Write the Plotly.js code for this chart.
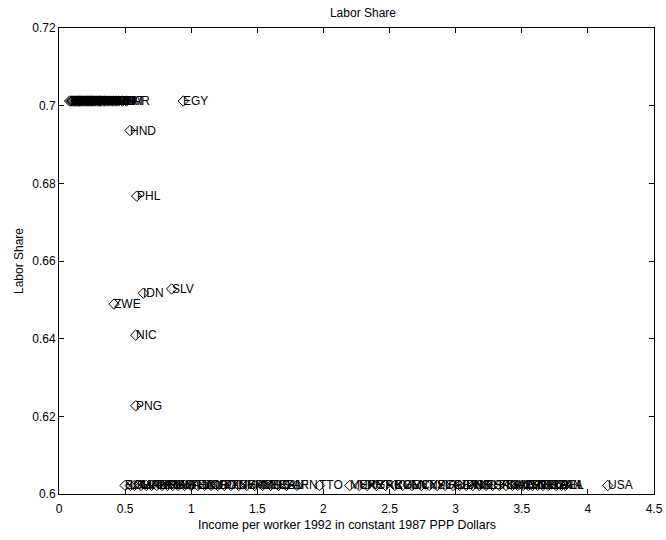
<!DOCTYPE html>
<html>
<head>
<meta charset="utf-8">
<script src="https://cdn.plot.ly/plotly-3.0.1.min.js"></script>
<style>html,body{margin:0;padding:0;background:#fff;}#chart{width:666px;height:540px;}</style>
</head>
<body>
<div id="chart"></div>
<script>
// Countries at the upper default share
var topCodes = ['MWI','ETH','TZA','UGA','BDI','MLI','BFA','NER','TCD','MOZ','RWA','MDG','SLE','GMB','TGO','BEN','CAF','KEN','GHA','NGA','IND','PAK','BGD','NPL','LSO','ZMB','CMR','SEN','GIN','HTI','MRT','CIV','ZAR'];
var topIncome = [0.08,0.09,0.1,0.11,0.12,0.13,0.14,0.15,0.155,0.165,0.175,0.19,0.2,0.21,0.22,0.23,0.24,0.25,0.26,0.27,0.285,0.3,0.31,0.32,0.34,0.35,0.37,0.39,0.41,0.43,0.45,0.48,0.51];
var topShare = [0.7012,0.7012,0.7012,0.7012,0.7012,0.7012,0.7012,0.7012,0.7012,0.7012,0.7012,0.7012,0.7012,0.7012,0.7012,0.7012,0.7012,0.7012,0.7012,0.7012,0.7012,0.7012,0.7012,0.7012,0.7012,0.7012,0.7012,0.7012,0.7012,0.7012,0.7012,0.7012,0.7012];

// Countries with individually estimated shares
var midCodes = ['EGY','HND','PHL','IDN','SLV','ZWE','NIC','PNG'];
var midIncome = [0.94,0.537,0.588,0.638,0.852,0.416,0.58,0.58];
var midShare = [0.7012,0.6936,0.6767,0.6517,0.6528,0.6489,0.6409,0.6227];

// Countries at the lower default share
var lowCodes = ['BOL','LKA','CHN','MAR','JAM','PER','PRY','THA','DOM','BWA','FJI','GTM','TUN','ECU','JOR','CRI','COL','PAN','TUR','SYR','GAB','MYS','MUS','BRA','CHL','ZAF','IRN','TTO','MEX','URY','PRT','GRC','ARG','KOR','VEN','MLT','CYP','NZL','SGP','IRL','GBR','JPN','DNK','ISR','ISL','ESP','HKG','FIN','SWE','AUS','AUT','CHE','NOR','DEU','NLD','FRA','LUX','CAN','BEL','ITA','USA'];
var lowIncome = [0.5,0.54,0.57,0.62,0.66,0.7,0.74,0.78,0.82,0.86,0.9,0.95,1.0,1.05,1.1,1.15,1.2,1.25,1.3,1.36,1.42,1.48,1.54,1.6,1.66,1.72,1.8,1.97,2.2,2.27,2.33,2.4,2.47,2.54,2.6,2.67,2.74,2.8,2.86,2.92,2.98,3.03,3.08,3.13,3.18,3.23,3.28,3.33,3.38,3.43,3.47,3.51,3.55,3.58,3.62,3.66,3.7,3.76,3.8,3.83,4.15];
var lowShare = [0.6022,0.6022,0.6022,0.6022,0.6022,0.6022,0.6022,0.6022,0.6022,0.6022,0.6022,0.6022,0.6022,0.6022,0.6022,0.6022,0.6022,0.6022,0.6022,0.6022,0.6022,0.6022,0.6022,0.6022,0.6022,0.6022,0.6022,0.6022,0.6022,0.6022,0.6022,0.6022,0.6022,0.6022,0.6022,0.6022,0.6022,0.6022,0.6022,0.6022,0.6022,0.6022,0.6022,0.6022,0.6022,0.6022,0.6022,0.6022,0.6022,0.6022,0.6022,0.6022,0.6022,0.6022,0.6022,0.6022,0.6022,0.6022,0.6022,0.6022,0.6022];

var xTicks = [0,0.5,1,1.5,2,2.5,3,3.5,4,4.5];
var yTicks = [0.6,0.62,0.64,0.66,0.68,0.7,0.72];

var allCodes = topCodes.concat(midCodes, lowCodes);
var allX = topIncome.concat(midIncome, lowIncome);
var allY = topShare.concat(midShare, lowShare);

var font = 'Liberation Sans, Arial, Helvetica, sans-serif';

var trace = {
  type: 'scatter', mode: 'markers',
  x: allX, y: allY,
  marker: {symbol: 'diamond-open', size: 8, color: '#000', line: {width: 1, color: '#000'}},
  hoverinfo: 'text', text: allCodes, showlegend: false
};

var annotations = allCodes.map(function (c, i) {
  return {x: allX[i], y: allY[i], xref: 'x', yref: 'y', text: c, showarrow: false,
    xanchor: 'left', yanchor: 'middle', xshift: -1, borderpad: 0,
    font: {family: font, size: 12, color: '#000'}};
});
annotations.push({
  xref: 'paper', yref: 'paper', x: 0.484, y: -0.067, xanchor: 'center', yanchor: 'middle',
  showarrow: false, text: 'Income per worker 1992 in constant 1987 PPP Dollars',
  font: {family: font, size: 12.4, color: '#000'}
});

var axisCommon = {
  showline: true, linecolor: '#000', linewidth: 1, mirror: 'ticks',
  ticks: 'inside', ticklen: 5, tickcolor: '#000', tickwidth: 1,
  showgrid: false, zeroline: false,
  tickfont: {family: font, size: 12, color: '#000'}
};

var layout = {
  width: 666, height: 540,
  margin: {l: 59, r: 12, t: 28, b: 46},
  paper_bgcolor: '#fff', plot_bgcolor: '#fff',
  title: {text: 'Labor Share', font: {family: font, size: 12, color: '#000'}, x: 0.545, xanchor: 'center', y: 0.976, yanchor: 'middle'},
  xaxis: Object.assign({}, axisCommon, {
    range: [0, 4.5], tickvals: xTicks, ticktext: xTicks.map(String),
    ticklabelstandoff: 4
  }),
  yaxis: Object.assign({}, axisCommon, {
    range: [0.6, 0.72], tickvals: yTicks, ticktext: yTicks.map(String),
    title: {text: 'Labor Share', font: {family: font, size: 12, color: '#000'}, standoff: 6}
  }),
  annotations: annotations
};

Plotly.newPlot('chart', [trace], layout, {staticPlot: true, displayModeBar: false});
</script>
</body>
</html>
